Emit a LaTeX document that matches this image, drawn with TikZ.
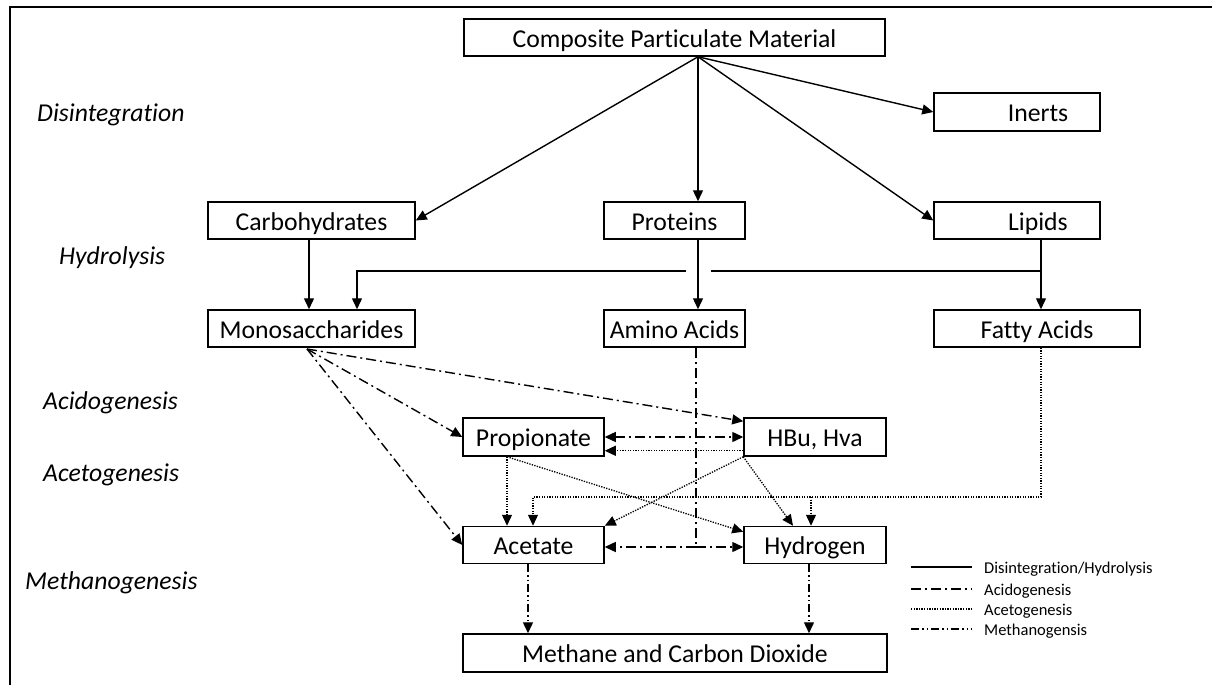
\documentclass[tikz,border=0pt]{standalone}
\usepackage{fontspec}
\setmainfont{Carlito}[Ligatures=NoCommon]
\usetikzlibrary{arrows.meta,calc}

\begin{document}
\begin{tikzpicture}[x=1pt,y=-1pt,
  >={Triangle[length=11pt,width=10pt]},
  box/.style={draw,line width=1.5pt,inner sep=0pt,text height=19.5pt,text depth=0pt,
    font=\fontsize{25.7}{30}\selectfont},
  lbl/.style={inner sep=0pt,text height=19.5pt,text depth=0pt,
    font=\fontsize{25.7}{30}\selectfont},
  stage/.style={anchor=west,inner sep=0pt,text height=19.5pt,text depth=0pt,
    font=\fontsize{25.7}{30}\selectfont\itshape},
  legtxt/.style={anchor=west,inner sep=0pt,text height=12.5pt,text depth=0pt,
    font=\fontsize{16.5}{19}\selectfont},
  flow/.style={line width=1.4pt},
  acido/.style={line width=1.4pt,dash pattern=on 10pt off 4pt on 2pt off 4pt},
  aceto/.style={line width=1.3pt,dash pattern=on 1.3pt off 1.3pt},
  metha/.style={line width=1.4pt,dash pattern=on 8pt off 3pt on 1.5pt off 3pt on 1.5pt off 3pt}
]
\useasboundingbox (0,0) rectangle (1212,685);

% outer frame
\draw[line width=2pt] (10,685) -- (10,7) -- (1212,7);

% stage labels
\node[stage] (sDis) at (37,111.5) {Disintegration};
\node[stage] (sHyd) at (59,255) {Hydrolysis};
\node[stage] (sAci) at (43,400) {Acidogenesis};
\node[stage] (sAce) at (43,471.5) {Acetogenesis};
\node[stage] (sMet) at (25,580) {Methanogenesis};

% boxes
\node[box,minimum width=421pt,minimum height=37pt] (comp) at (674.5,37.5) {Composite Particulate Material};
\node[box,minimum width=166pt,minimum height=38pt] (inerts) at (1017,112) {};
\node[lbl] (inertsT) at (1038,112) {Inerts};
\node[box,minimum width=207pt,minimum height=37pt] (carb) at (311.5,220.5) {Carbohydrates};
\node[box,minimum width=141pt,minimum height=37pt] (prot) at (674.5,220.5) {Proteins};
\node[box,minimum width=166pt,minimum height=37pt] (lip) at (1017,220.5) {};
\node[lbl] (lipT) at (1038,220.5) {Lipids};
\node[box,minimum width=207pt,minimum height=37pt] (mono) at (311.5,328.5) {Monosaccharides};
\node[box,minimum width=141pt,minimum height=37pt] (amino) at (674.5,328.5) {Amino Acids};
\node[box,minimum width=206pt,minimum height=37pt] (fatty) at (1037,328.5) {Fatty Acids};
\node[box,minimum width=141pt,minimum height=38pt] (prop) at (533.5,437) {Propionate};
\node[box,minimum width=142pt,minimum height=38pt] (hbu) at (815,437) {HBu, Hva};
\node[box,minimum width=141pt,minimum height=37pt] (acet) at (533.5,545) {Acetate};
\node[box,minimum width=142pt,minimum height=37pt] (hyd) at (815,545) {Hydrogen};
\node[box,minimum width=424pt,minimum height=38pt] (meth) at (675,653) {Methane and Carbon Dioxide};

% helper coordinates
\coordinate (cx) at (698,0);
\coordinate (cb) at (309,0);
\coordinate (lx) at (1041,0);
\coordinate (hy) at (357,271);
\coordinate (gapL) at (686,271);
\coordinate (gapR) at (711,271);
\coordinate (mo) at (307,349);
\coordinate (aj) at (696,547);
\coordinate (px) at (507,0);
\coordinate (hx) at (793,0);
\coordinate (fl) at (533,497);
\coordinate (fr) at (811,497);
\coordinate (fj) at (1041,497);
\coordinate (ma) at (528,0);
\coordinate (mh) at (809,0);

% disintegration
\draw[flow,->] (comp.south -| cx) -- (carb.east);
\draw[flow,->] (comp.south -| cx) -- (prot.north -| cx);
\draw[flow,->] (comp.south -| cx) -- (lip.west);
\draw[flow,->] (comp.south -| cx) -- (inerts.west);

% hydrolysis
\draw[flow,->] (carb.south -| cb) -- (mono.north -| cb);
\draw[flow,->] (prot.south -| cx) -- (amino.north -| cx);
\draw[flow,->] (lip.south -| lx) -- (fatty.north -| lx);
\draw[flow] (lx |- hy) -- (gapR);
\draw[flow,->] (gapL) -- (hy) -- (mono.north -| hy);

% acidogenesis
\draw[acido,->] (mo) -- ($(hbu.north west)+(0,4)$);
\draw[acido,->] (mo) -- (prop.west);
\draw[acido,->] (mo) -- (acet.west);
\draw[acido,<->] (prop.east) -- (hbu.west);
\draw[acido] (amino.south -| aj) -- (aj);
\draw[acido,->] (aj) -- (hyd.west |- aj);
\draw[acido,->] (aj) -- (acet.east |- aj);

% acetogenesis
\draw[aceto,->] ($(hbu.south west)+(0,-6)$) -- ($(prop.south east)+(0,-6)$);
\draw[aceto,->] (prop.south -| px) -- (acet.north -| px);
\draw[aceto,->] (prop.south -| px) -- ($(hyd.north west)+(0,6)$);
\draw[aceto,->] (hbu.south west) -- (acet.north east);
\draw[aceto,->] (hbu.south west) -- (hyd.north -| hx);
\draw[aceto,->] (fatty.south -| lx) -- (fj) -- (fl) -- (acet.north -| fl);
\draw[aceto,->] (fr) -- (hyd.north -| fr);

% methanogenesis
\draw[metha,->] (acet.south -| ma) -- (meth.north -| ma);
\draw[metha,->] (hyd.south -| mh) -- (meth.north -| mh);

% legend
\draw[flow] (911,567) -- (972,567);
\draw[acido] (911,589) -- (972,589);
\draw[aceto] (911,609) -- (972,609);
\draw[metha] (911,629) -- (972,629);
\node[legtxt] (l1) at (984,567) {Disintegration/Hydrolysis};
\node[legtxt] (l2) at (984,589) {Acidogenesis};
\node[legtxt] (l3) at (984,609) {Acetogenesis};
\node[legtxt] (l4) at (984,629) {Methanogensis};
\end{tikzpicture}
\end{document}
